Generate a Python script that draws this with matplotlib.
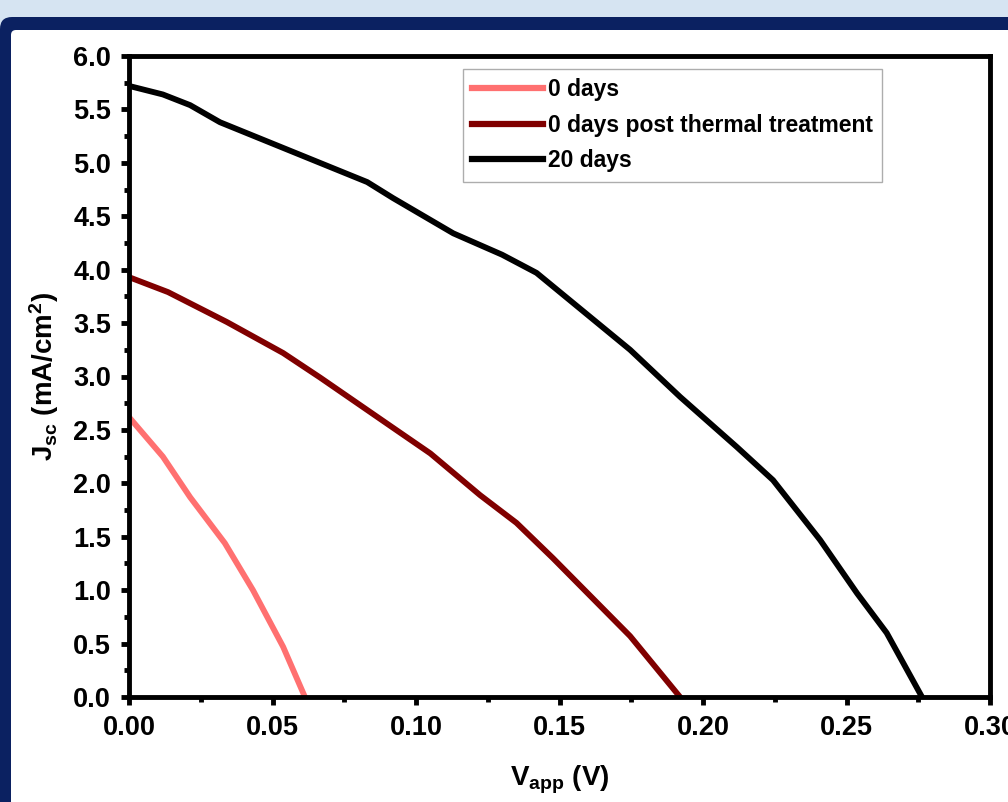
import numpy as np
import matplotlib
matplotlib.use('Agg')
import matplotlib.pyplot as plt
from matplotlib.patches import FancyBboxPatch
from matplotlib.ticker import MultipleLocator, FormatStrFormatter


# J-V curves
v_0d = [0.0, 0.0118, 0.0213, 0.0334, 0.0432, 0.0537, 0.0613]
j_0d = [2.62, 2.25, 1.87, 1.44, 1.00, 0.47, 0.0]

v_0d_tt = [0.0, 0.0136, 0.0341, 0.0537, 0.0666, 0.092, 0.105, 0.1223, 0.135, 0.1477, 0.1746, 0.192]
j_0d_tt = [3.93, 3.79, 3.51, 3.22, 2.99, 2.52, 2.28, 1.89, 1.63, 1.30, 0.57, 0.0]

v_20d = [0.0, 0.0118, 0.0213, 0.0317, 0.083, 0.092, 0.113, 0.130, 0.142, 0.1746, 0.192,
         0.2118, 0.2244, 0.2408, 0.2537, 0.264, 0.2763]
j_20d = [5.72, 5.64, 5.54, 5.38, 4.82, 4.67, 4.34, 4.14, 3.97, 3.25, 2.81,
         2.34, 2.03, 1.47, 0.97, 0.60, 0.0]

labels = ['0 days', '0 days post thermal treatment', '20 days']
colors = ['#ff7070', '#800000', '#000000']


plt.rcParams['font.family'] = ['Liberation Sans', 'DejaVu Sans']
plt.rcParams['font.weight'] = 'bold'
plt.rcParams['mathtext.fontset'] = 'custom'
plt.rcParams['mathtext.rm'] = 'Liberation Sans:bold'
plt.rcParams['mathtext.bf'] = 'Liberation Sans:bold'
plt.rcParams['mathtext.default'] = 'bf'

fig = plt.figure(figsize=(10.08, 8.02), dpi=100)
fig.patch.set_facecolor('#d6e4f2')

# navy frame + white panel (drawn behind the axes)
W, H = 1008, 802
fig.patches.append(FancyBboxPatch((0, -50), W + 60, H - 17 + 50, boxstyle='round,pad=0,rounding_size=12',
                                  transform=None, facecolor='#0b2161', edgecolor='none', zorder=-10))
fig.patches.append(FancyBboxPatch((11, -50), W + 60, H - 30 + 50, boxstyle='round,pad=0,rounding_size=5',
                                  transform=None, facecolor='white', edgecolor='none', zorder=-9))

ax = fig.add_axes([129 / W, 105 / H, (990 - 129) / W, (697 - 56) / H])
ax.set_zorder(5)
ax.set_facecolor('none')

ax.plot(v_0d, j_0d, color=colors[0], lw=4.2, label=labels[0])
ax.plot(v_0d_tt, j_0d_tt, color=colors[1], lw=4.2, label=labels[1])
ax.plot(v_20d, j_20d, color=colors[2], lw=4.2, label=labels[2])

ax.set_xlim(0, 0.30)
ax.set_ylim(0, 6.0)
ax.xaxis.set_major_locator(MultipleLocator(0.05))
ax.xaxis.set_minor_locator(MultipleLocator(0.025))
ax.yaxis.set_major_locator(MultipleLocator(0.5))
ax.yaxis.set_minor_locator(MultipleLocator(0.25))
ax.xaxis.set_major_formatter(FormatStrFormatter('%.2f'))
ax.yaxis.set_major_formatter(FormatStrFormatter('%.1f'))

for s in ax.spines.values():
    s.set_linewidth(3.5)
ax.tick_params(which='major', direction='out', length=6, width=3.5, labelsize=19.5, pad=7)
ax.tick_params(which='minor', direction='out', length=3.5, width=3.5)
for lab in ax.get_xticklabels() + ax.get_yticklabels():
    lab.set_fontweight('bold')

ax.set_xlabel(r'V$_{app}$ (V)', fontsize=20, fontweight='bold', labelpad=16)
ax.set_ylabel(r'J$_{sc}$ (mA/cm$^{2}$)', fontsize=20, fontweight='bold', labelpad=9)

leg = ax.legend(loc='upper left', bbox_to_anchor=((463 - 129) / (990 - 129), 1 - (69 - 56) / (697 - 56)),
                frameon=True, fancybox=False, handlelength=3.1, handletextpad=0.2,
                borderpad=0.4, borderaxespad=0, labelspacing=0.55, prop={'weight': 'bold', 'size': 16.5})
leg.get_frame().set_edgecolor('#999999')
leg.get_frame().set_linewidth(1)
for ln in leg.get_lines():
    ln.set_linewidth(4.5)

fig.savefig('out.png', dpi=100, facecolor=fig.get_facecolor())
